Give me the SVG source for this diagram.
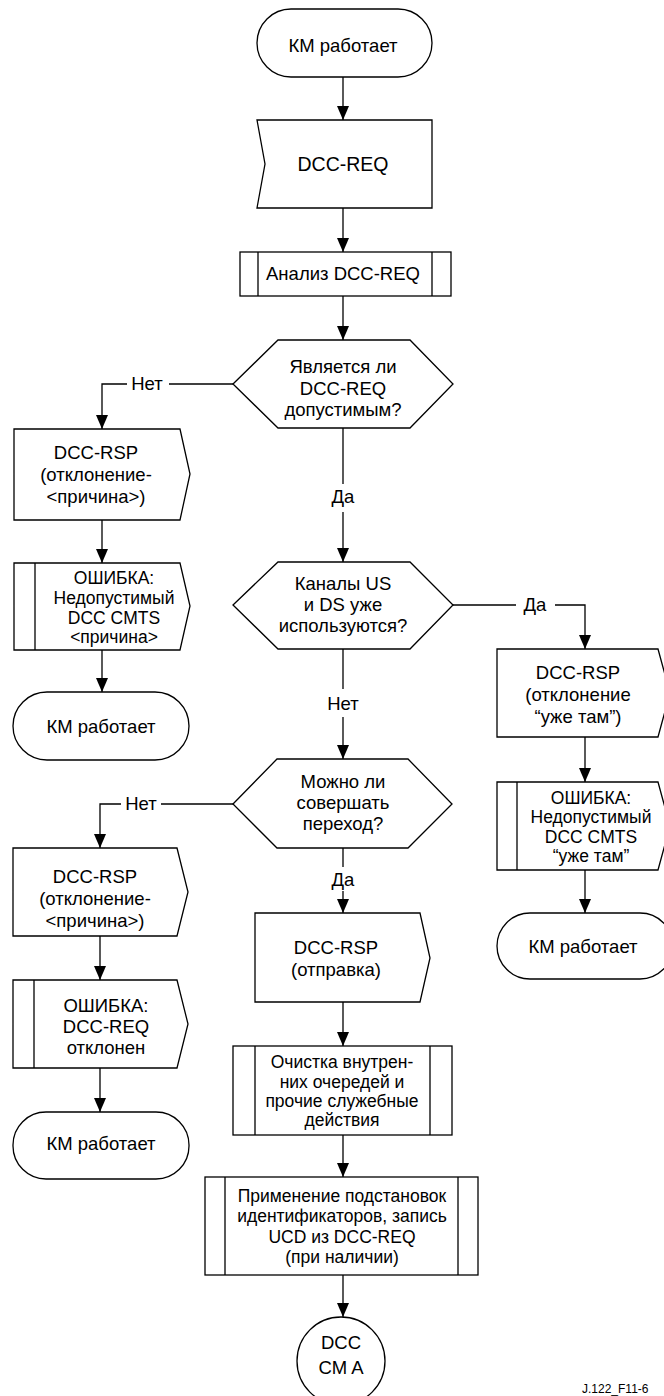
<svg xmlns="http://www.w3.org/2000/svg" width="664" height="1396" viewBox="0 0 664 1396">
  <style>
    .s { fill: #fff; stroke: #000; stroke-width: 1.3; }
    .ln { fill: none; stroke: #000; stroke-width: 1.3; }
    text { font-family: "Liberation Sans", Arial, sans-serif; font-size: 18.5px; fill: #000; text-anchor: middle; }
    .big { font-size: 19.5px; }
    .sm { font-size: 17.5px; }
    .id { font-size: 12px; text-anchor: start; }
  </style>
  <defs>
    <marker id="down" markerUnits="userSpaceOnUse" markerWidth="12" markerHeight="14" viewBox="0 0 12 14" refX="6" refY="14" orient="0">
      <path d="M0,0 L12,0 L6,14 Z" fill="#000"/>
    </marker>
  </defs>

  <rect width="664" height="1396" fill="#fff"/>

  <!-- connectors -->
  <g id="connectors">
    <path class="ln" d="M343,77 V120" marker-end="url(#down)"/>
    <path class="ln" d="M343,208 V252" marker-end="url(#down)"/>
    <path class="ln" d="M343,296 V340" marker-end="url(#down)"/>
    <!-- decision 1: no -->
    <path class="ln" d="M233,384 H169"/>
    <path class="ln" d="M127,384 H102 V429" marker-end="url(#down)"/>
    <text x="147" y="390">Нет</text>
    <!-- decision 1: yes -->
    <path class="ln" d="M343,428 V484"/>
    <path class="ln" d="M343,512 V562" marker-end="url(#down)"/>
    <text x="343" y="503">Да</text>
    <!-- decision 2: yes -->
    <path class="ln" d="M453,605 H516"/>
    <path class="ln" d="M555,605 H585 V649" marker-end="url(#down)"/>
    <text x="535" y="611">Да</text>
    <!-- decision 2: no -->
    <path class="ln" d="M343,649 V689"/>
    <path class="ln" d="M343,717 V759" marker-end="url(#down)"/>
    <text x="343" y="710">Нет</text>
    <!-- decision 3: no -->
    <path class="ln" d="M233,804 H161"/>
    <path class="ln" d="M121,804 H100 V848" marker-end="url(#down)"/>
    <text x="141" y="810">Нет</text>
    <!-- decision 3: yes -->
    <path class="ln" d="M343,848 V867"/>
    <path class="ln" d="M343,891 V913" marker-end="url(#down)"/>
    <text x="343" y="886">Да</text>
    <!-- left branch 1 -->
    <path class="ln" d="M102,520 V563" marker-end="url(#down)"/>
    <path class="ln" d="M102,650 V692" marker-end="url(#down)"/>
    <!-- left branch 2 -->
    <path class="ln" d="M100,936 V980" marker-end="url(#down)"/>
    <path class="ln" d="M100,1068 V1112" marker-end="url(#down)"/>
    <!-- right branch -->
    <path class="ln" d="M585,737 V782" marker-end="url(#down)"/>
    <path class="ln" d="M585,870 V913" marker-end="url(#down)"/>
    <!-- main column, lower part -->
    <path class="ln" d="M343,1002 V1046" marker-end="url(#down)"/>
    <path class="ln" d="M343,1135 V1177" marker-end="url(#down)"/>
    <path class="ln" d="M343,1275 V1317" marker-end="url(#down)"/>
  </g>

  <g id="start">
    <rect class="s" x="257" y="9" width="175" height="68" rx="34"/>
    <text x="343" y="52">КМ работает</text>
  </g>

  <g id="recv-dcc-req">
    <polygon class="s" points="257,120 432,120 432,208 257,208 265,164"/>
    <text class="big" x="343" y="171">DCC-REQ</text>
  </g>

  <g id="parse">
    <rect class="s" x="240" y="252" width="211" height="44"/>
    <path class="ln" d="M258,252 V296 M432,252 V296"/>
    <text x="343" y="280">Анализ DCC-REQ</text>
  </g>

  <g id="valid">
    <polygon class="s" points="233,384 278,340 410,340 453,384 410,428 278,428"/>
    <text x="343" y="373">Является ли</text>
    <text x="343" y="395">DCC-REQ</text>
    <text x="343" y="416">допустимым?</text>
  </g>

  <g id="rsp-reject-1">
    <polygon class="s" points="14,429 180,429 190,474 180,520 14,520"/>
    <text x="96" y="459">DCC-RSP</text>
    <text x="96" y="481">(отклонение-</text>
    <text x="96" y="503">&lt;причина&gt;)</text>
  </g>

  <g id="err-invalid">
    <polygon class="s" points="14,563 180,563 190,606 180,650 14,650"/>
    <path class="ln" d="M35,563 V650"/>
    <text class="sm" x="114" y="584">ОШИБКА:</text>
    <text class="sm" x="114" y="604">Недопустимый</text>
    <text class="sm" x="114" y="624">DCC CMTS</text>
    <text class="sm" x="114" y="643">&lt;причина&gt;</text>
  </g>

  <g id="end-left-1">
    <rect class="s" x="13" y="692" width="176" height="68" rx="34"/>
    <text x="101" y="733">КМ работает</text>
  </g>

  <g id="in-use">
    <polygon class="s" points="233,605 278,562 410,562 453,605 410,649 278,649"/>
    <text x="343" y="590">Каналы US</text>
    <text x="343" y="611">и DS уже</text>
    <text x="343" y="632">используются?</text>
  </g>

  <g id="rsp-already">
    <polygon class="s" points="497,649 658,649 670,693 658,737 497,737"/>
    <text x="578" y="679">DCC-RSP</text>
    <text x="578" y="701">(отклонение</text>
    <text x="578" y="723">“уже там”)</text>
  </g>

  <g id="err-already">
    <polygon class="s" points="497,782 658,782 670,826 658,870 497,870"/>
    <path class="ln" d="M517,782 V870"/>
    <text class="sm" x="591" y="804">ОШИБКА:</text>
    <text class="sm" x="591" y="823">Недопустимый</text>
    <text class="sm" x="591" y="843">DCC CMTS</text>
    <text class="sm" x="591" y="862">“уже там”</text>
  </g>

  <g id="end-right">
    <rect class="s" x="497" y="913" width="176" height="66" rx="33"/>
    <text x="583" y="953">КМ работает</text>
  </g>

  <g id="can-switch">
    <polygon class="s" points="233,804 277,759 408,759 452,804 408,848 277,848"/>
    <text x="343" y="788">Можно ли</text>
    <text x="343" y="809">совершать</text>
    <text x="343" y="830">переход?</text>
  </g>

  <g id="rsp-reject-2">
    <polygon class="s" points="13,848 177,848 188,892 177,936 13,936"/>
    <text x="95" y="883">DCC-RSP</text>
    <text x="95" y="905">(отклонение-</text>
    <text x="95" y="927">&lt;причина&gt;)</text>
  </g>

  <g id="err-rejected">
    <polygon class="s" points="13,980 177,980 188,1024 177,1068 13,1068"/>
    <path class="ln" d="M34,980 V1068"/>
    <text x="106" y="1012">ОШИБКА:</text>
    <text x="106" y="1033">DCC-REQ</text>
    <text x="106" y="1054">отклонен</text>
  </g>

  <g id="end-left-2">
    <rect class="s" x="13" y="1112" width="176" height="67" rx="33"/>
    <text x="101" y="1150">КМ работает</text>
  </g>

  <g id="rsp-send">
    <polygon class="s" points="255,913 420,913 430,958 420,1002 255,1002"/>
    <text x="336" y="954">DCC-RSP</text>
    <text x="336" y="976">(отправка)</text>
  </g>

  <g id="cleanup">
    <rect class="s" x="233" y="1046" width="219" height="89"/>
    <path class="ln" d="M255,1046 V1135 M430,1046 V1135"/>
    <text class="sm" x="342" y="1068">Очистка внутрен-</text>
    <text class="sm" x="342" y="1088">них очередей и</text>
    <text class="sm" x="342" y="1107">прочие служебные</text>
    <text class="sm" x="342" y="1126">действия</text>
  </g>

  <g id="apply">
    <rect class="s" x="205" y="1177" width="273" height="98"/>
    <path class="ln" d="M225,1177 V1275 M458,1177 V1275"/>
    <text class="sm" x="342" y="1202">Применение подстановок</text>
    <text class="sm" x="342" y="1222">идентификаторов, запись</text>
    <text class="sm" x="342" y="1243">UCD из DCC-REQ</text>
    <text class="sm" x="342" y="1263">(при наличии)</text>
  </g>

  <g id="dcc-cm-a">
    <circle class="s" cx="341" cy="1361" r="44"/>
    <text x="341" y="1349">DCC</text>
    <text x="341" y="1374">CM A</text>
  </g>

  <text class="id" x="582" y="1393">J.122_F11-6</text>
</svg>
